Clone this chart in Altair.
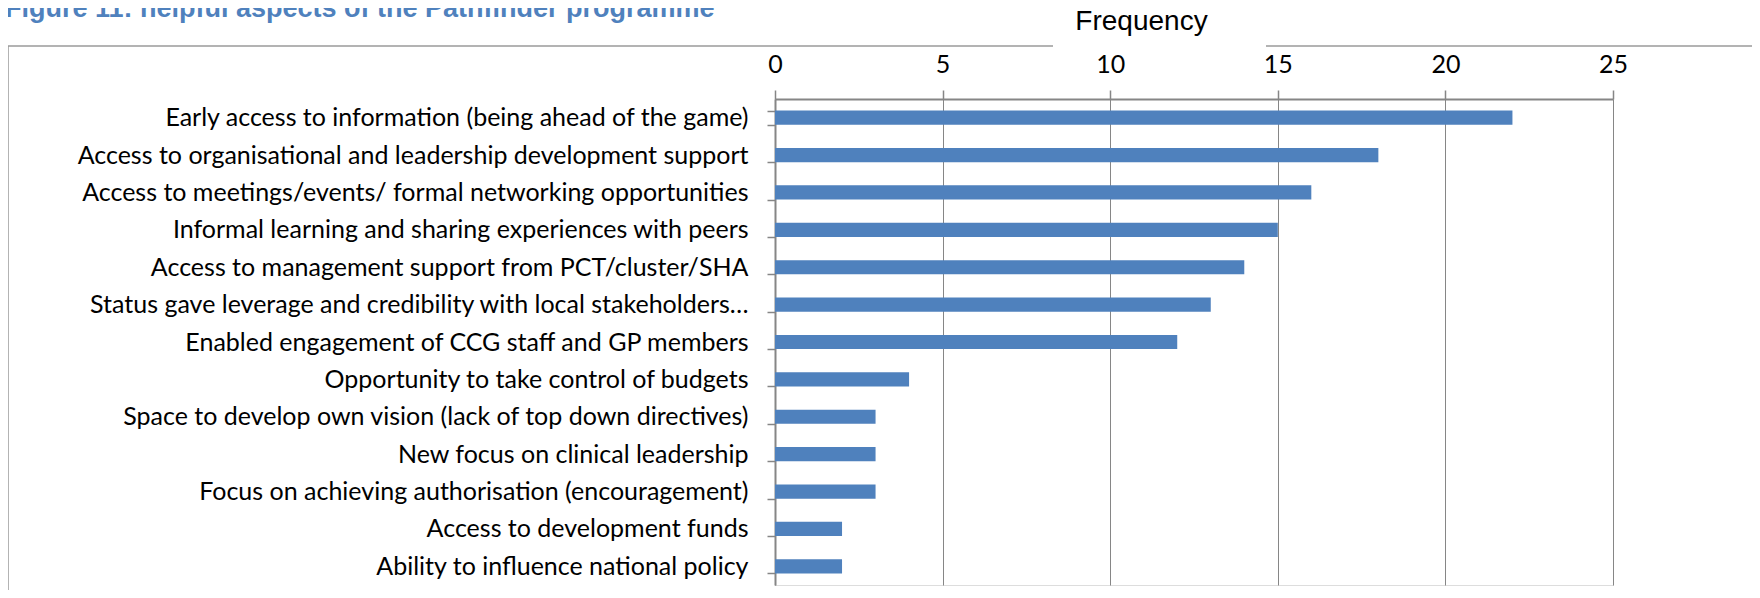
import altair as alt
import pandas as pd

# ---- data ----
aspects = [
    "Early access to information (being ahead of the game)",
    "Access to organisational and leadership development support",
    "Access to meetings/events/ formal networking opportunities",
    "Informal learning and sharing experiences with peers",
    "Access to management support from PCT/cluster/SHA",
    "Status gave leverage and credibility with local stakeholders…",
    "Enabled engagement of CCG staff and GP members",
    "Opportunity to take control of budgets",
    "Space to develop own vision (lack of top down directives)",
    "New focus on clinical leadership",
    "Focus on achieving authorisation (encouragement)",
    "Access to development funds",
    "Ability to influence national policy",
]
frequency = [22, 18, 16, 15, 14, 13, 12, 4, 3, 3, 3, 2, 2]
x_ticks = [0, 5, 10, 15, 20, 25]
fig_title = "Figure 11: helpful aspects of the Pathfinder programme"
axis_title = "Frequency"

df = pd.DataFrame({"aspect": aspects, "frequency": frequency})

GRAY = "#868686"
BLUE = "#4F81BD"
PLOT_W, PLOT_H = 838, 486

bars = alt.Chart(df).mark_bar(color=BLUE).encode(
    x=alt.X(
        "frequency:Q",
        scale=alt.Scale(domain=[0, 25], nice=False, zero=True),
        axis=alt.Axis(
            orient="top",
            values=x_ticks,
            grid=True,
            gridColor=GRAY,
            gridWidth=1,
            domainColor=GRAY,
            domainWidth=2,
            tickColor=GRAY,
            tickWidth=1.5,
            tickSize=9,
            labelFlush=False,
            labelFont="Lato",
            labelFontSize=25,
            labelColor="#000000",
            labelPadding=13,
            title=axis_title,
            titleFont="Liberation Sans",
            titleFontSize=28,
            titleFontWeight="normal",
            titleColor="#000000",
            titleX=366,
            titleY=-70,
            titleAlign="center",
            titleBaseline="alphabetic",
        ),
    ),
    y=alt.Y(
        "aspect:N",
        sort=aspects,
        scale=alt.Scale(paddingInner=0.62, paddingOuter=0.31),
        axis=alt.Axis(
            title=None,
            domainColor=GRAY,
            domainWidth=2,
            tickColor=GRAY,
            tickWidth=1.5,
            tickSize=8,
            tickBand="extent",
            labelFont="Lato",
            labelFontSize=25,
            labelColor="#000000",
            labelPadding=19,
            labelLimit=0,
        ),
    ),
)

one = pd.DataFrame({"k": [0]})
frame_left = alt.Chart(one).mark_rule(color="#9a9a9a", strokeWidth=1.5).encode(
    x=alt.value(-767), y=alt.value(-53), y2=alt.value(520)
)
frame_top_a = alt.Chart(one).mark_rule(color="#9a9a9a", strokeWidth=1.5).encode(
    x=alt.value(-767), x2=alt.value(278), y=alt.value(-53)
)
frame_top_b = alt.Chart(one).mark_rule(color="#9a9a9a", strokeWidth=1.5).encode(
    x=alt.value(491), x2=alt.value(1000), y=alt.value(-53)
)
title_text = alt.Chart(one).mark_text(
    align="left",
    baseline="alphabetic",
    font="Liberation Sans",
    fontSize=27,
    fontWeight="bold",
    color=BLUE,
).encode(x=alt.value(-770), y=alt.value(-82), text=alt.value(fig_title))

chart = (
    alt.layer(frame_left, frame_top_a, frame_top_b, title_text, bars)
    .properties(
        width=PLOT_W,
        height=PLOT_H,
        autosize=alt.AutoSizeParams(type="none"),
        padding={"left": 767, "top": 91, "right": 139, "bottom": 5},
    )
    .configure_view(strokeWidth=0)
    .configure(background="white")
)

chart.save("out.html", embed_options={"renderer": "svg", "actions": False})
